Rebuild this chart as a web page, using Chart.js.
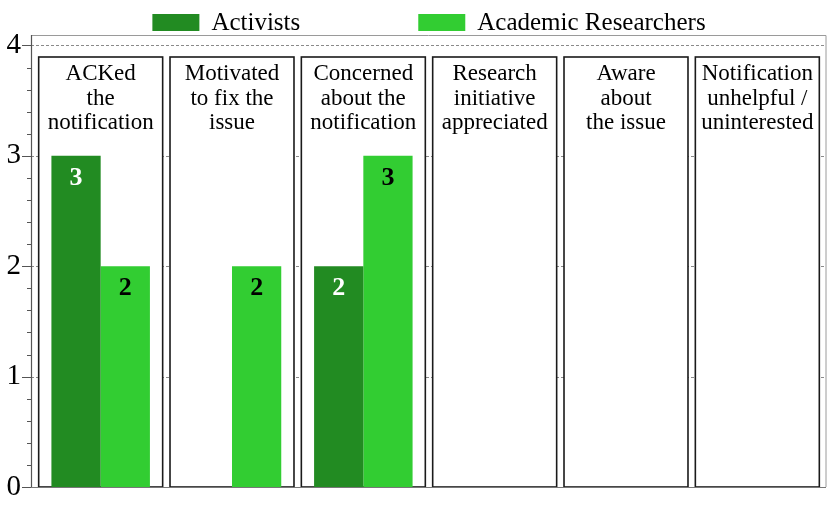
<!DOCTYPE html>
<html><head><meta charset="utf-8">
<script src="https://cdn.jsdelivr.net/npm/chart.js@4/dist/chart.umd.min.js"></script>
<style>html,body{margin:0;padding:0;background:#fff;} canvas{display:block;}</style>
</head><body>
<canvas id="c" width="831" height="507"></canvas>
<script>
const categories = [
  ["ACKed","the","notification"],
  ["Motivated","to fix the","issue"],
  ["Concerned","about the","notification"],
  ["Research","initiative","appreciated"],
  ["Aware","about","the issue"],
  ["Notification","unhelpful /","uninterested"]
];
const activists   = [3,0,2,0,0,0];
const researchers = [2,2,3,0,0,0];
const yTickValues = [0,1,2,3,4];
const seriesNames = ["Activists","Academic Researchers"];
const seriesColors = ["#228B22","#32CD32"];
const valueLabelColors = ["#ffffff","#000000"];
const SERIF = "'Liberation Serif','Times New Roman',serif";

const decor = {
  id: 'decor',
  beforeDatasetsDraw(chart) {
    const ctx = chart.ctx, a = chart.chartArea;
    const xs = chart.scales.x, ys = chart.scales.y;
    const fL = a.left - 4, fR = a.right + 3, fT = a.top, fB = a.bottom;
    ctx.save();
    // dashed gridlines
    ctx.strokeStyle = '#8a8a8a'; ctx.lineWidth = 1; ctx.setLineDash([3,2]);
    yTickValues.forEach(v => {
      if (v === 0) return;
      const y = Math.round(ys.getPixelForValue(v)) + 0.5;
      ctx.beginPath(); ctx.moveTo(fL, y); ctx.lineTo(fR, y); ctx.stroke();
    });
    ctx.setLineDash([]);
    // frame
    ctx.strokeStyle = '#9a9a9a'; ctx.lineWidth = 1;
    ctx.beginPath(); ctx.moveTo(fL, fT + 0.5); ctx.lineTo(fR, fT + 0.5); ctx.lineTo(fR, fB); ctx.stroke();
    // boxes
    const n = categories.length;
    const cw = (a.right - a.left) / n;
    const hw = cw * 0.472;
    const bTop = a.top + 22;
    categories.forEach((lines, i) => {
      const cx = xs.getPixelForValue(i);
      ctx.fillStyle = '#ffffff';
      ctx.fillRect(cx - hw, bTop, hw * 2, fB - bTop);
      ctx.strokeStyle = '#1a1a1a'; ctx.lineWidth = 1.6;
      ctx.strokeRect(cx - hw, bTop, hw * 2, fB - bTop);
      ctx.fillStyle = '#000';
      ctx.font = '23px ' + SERIF;
      ctx.textAlign = 'center'; ctx.textBaseline = 'middle';
      lines.forEach((t, k) => ctx.fillText(t, cx, bTop + 17 + k * 24.5));
    });
    // axis lines
    ctx.strokeStyle = '#555'; ctx.lineWidth = 1.2;
    ctx.beginPath(); ctx.moveTo(fL + 0.5, fT); ctx.lineTo(fL + 0.5, fB); ctx.stroke();
    ctx.strokeStyle = '#777';
    ctx.beginPath(); ctx.moveTo(fL, fB + 0.5); ctx.lineTo(fR, fB + 0.5); ctx.stroke();
    // ticks
    ctx.strokeStyle = '#555'; ctx.lineWidth = 1;
    for (let k = 0; k <= 20; k++) {
      const v = k / 5;
      const y = Math.round(ys.getPixelForValue(v)) + 0.5;
      const len = (k % 5 === 0) ? 9 : 4;
      ctx.beginPath(); ctx.moveTo(fL - len, y); ctx.lineTo(fL, y); ctx.stroke();
    }
    ctx.restore();
  },
  afterDatasetsDraw(chart) {
    const ctx = chart.ctx;
    ctx.save();
    ctx.font = 'bold 26px ' + SERIF;
    ctx.textAlign = 'center'; ctx.textBaseline = 'middle';
    chart.data.datasets.forEach((ds, di) => {
      const meta = chart.getDatasetMeta(di);
      meta.data.forEach((bar, i) => {
        const v = ds.data[i];
        if (!v) return;
        ctx.fillStyle = valueLabelColors[di];
        ctx.fillText(String(v), bar.x, bar.y + 22);
      });
    });
    // legend
    const a = chart.chartArea;
    ctx.font = '25px ' + SERIF;
    ctx.textAlign = 'left';
    const bw = 47, bh = 17, gapBT = 12, gapItems = 118;
    const widths = seriesNames.map(s => bw + gapBT + ctx.measureText(s).width);
    const total = widths.reduce((p, c) => p + c, 0) + gapItems * (widths.length - 1);
    let x = (a.left + a.right) / 2 - total / 2;
    seriesNames.forEach((s, i) => {
      ctx.fillStyle = seriesColors[i];
      ctx.fillRect(x, 14, bw, bh);
      ctx.fillStyle = '#000';
      ctx.fillText(s, x + bw + gapBT, 23);
      x += widths[i] + gapItems;
    });
    ctx.restore();
  }
};

new Chart(document.getElementById('c'), {
  type: 'bar',
  data: {
    labels: categories,
    datasets: [
      { label: seriesNames[0], data: activists, backgroundColor: seriesColors[0], borderWidth: 0 },
      { label: seriesNames[1], data: researchers, backgroundColor: seriesColors[1], borderWidth: 0 }
    ]
  },
  options: {
    responsive: false,
    animation: false,
    layout: { padding: { top: 35, right: 8, bottom: 20, left: 0 } },
    datasets: { bar: { categoryPercentage: 0.75, barPercentage: 1.0 } },
    plugins: { legend: { display: false }, tooltip: { enabled: false } },
    scales: {
      x: { display: false, offset: true, grid: { display: false } },
      y: {
        min: 0, max: 4.095,
        grid: { display: false, drawTicks: false },
        border: { display: false },
        ticks: { stepSize: 1, includeBounds: false, padding: 14, color: '#000',
                 font: { family: SERIF, size: 29 } },
        afterFit(scale) { scale.width = 35; scale.paddingTop = 0; scale.paddingBottom = 0; }
      }
    }
  },
  plugins: [decor]
});
</script>
</body></html>
